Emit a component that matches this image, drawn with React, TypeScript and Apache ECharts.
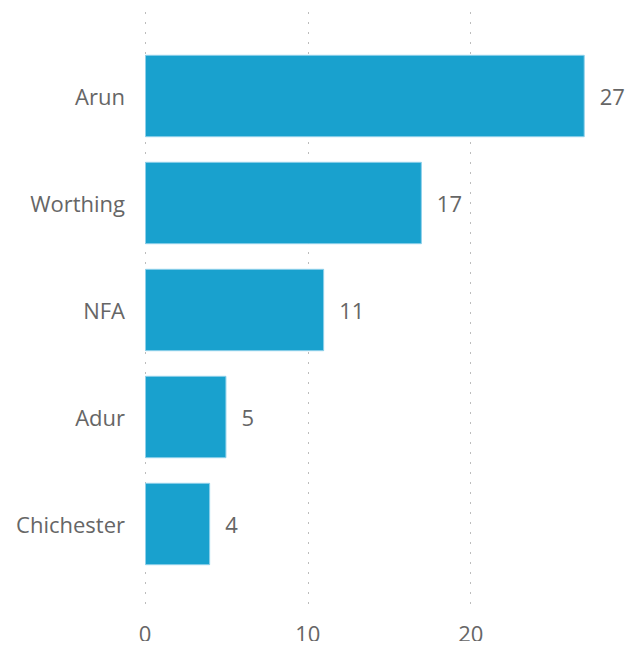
import React, { useEffect, useRef } from "react";
import * as echarts from "echarts";

const categories = ["Arun", "Worthing", "NFA", "Adur", "Chichester"];
const values = [27, 17, 11, 5, 4];
const axisMin = 0;
const axisMax = 28;
const axisInterval = 10;

const FONT = "'Segoe UI', 'Open Sans', sans-serif";

export default function App() {
  const ref = useRef<HTMLDivElement>(null);
  useEffect(() => {
    if (!ref.current) return;
    const chart = echarts.init(ref.current, undefined, { renderer: "svg" });
    chart.setOption({
      animation: false,
      backgroundColor: "#ffffff",
      grid: [
        { left: 145, right: 40, top: 12, bottom: 38 },
        { left: 145, right: 40, top: 42.5, bottom: 71.5 },
      ],
      xAxis: [
        {
          type: "value",
          gridIndex: 0,
          min: axisMin,
          max: axisMax,
          interval: axisInterval,
          axisLine: { show: false },
          axisTick: { show: false },
          axisLabel: {
            color: "#666",
            fontSize: 22,
            fontFamily: FONT,
            margin: 11,
            showMaxLabel: false,
          },
          splitLine: {
            show: true,
            showMaxLine: false,
            lineStyle: { color: "#bdbdbd", type: [2, 8], width: 1 },
          },
        },
        {
          type: "value",
          gridIndex: 1,
          min: axisMin,
          max: axisMax,
          show: false,
          splitLine: { show: false },
        },
      ],
      yAxis: [
        {
          type: "category",
          gridIndex: 0,
          show: false,
          data: [""],
        },
        {
          type: "category",
          gridIndex: 1,
          data: categories,
          inverse: true,
          axisLine: { show: false },
          axisTick: { show: false },
          axisLabel: {
            color: "#666",
            fontSize: 22,
            fontFamily: FONT,
            margin: 20,
          },
          splitLine: { show: false },
        },
      ],
      series: [
        {
          type: "bar",
          xAxisIndex: 1,
          yAxisIndex: 1,
          data: values,
          barCategoryGap: "23%",
          itemStyle: {
            color: "#19A1CE",
            borderColor: "#8FD0EA",
            borderWidth: 1,
          },
          label: {
            show: true,
            position: "right",
            distance: 15,
            color: "#666",
            fontSize: 22,
            fontFamily: FONT,
          },
        },
      ],
    });
    return () => chart.dispose();
  }, []);
  return <div ref={ref} style={{ width: 641, height: 649, margin: -8 }} />;
}
